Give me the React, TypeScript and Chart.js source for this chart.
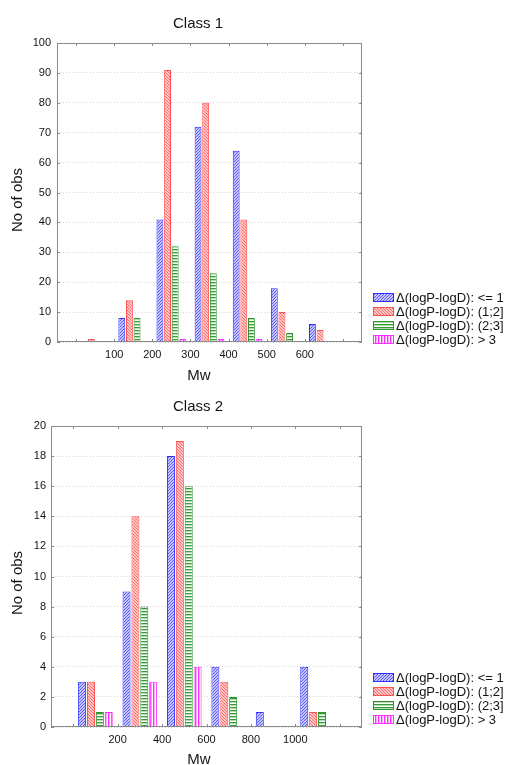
import React, { useEffect, useRef } from 'react';
import { Chart, registerables } from 'chart.js';
Chart.register(...registerables);

const seriesLabels = ['Δ(logP-logD): <= 1', 'Δ(logP-logD): (1;2]', 'Δ(logP-logD): (2;3]', 'Δ(logP-logD): > 3'];

const class1Mw = [50, 150, 250, 350, 450, 550, 650];
const class1Le1 = [0, 8, 41, 72, 64, 18, 6];
const class1R12 = [1, 14, 91, 80, 41, 10, 4];
const class1R23 = [0, 8, 32, 23, 8, 3, 0];
const class1Gt3 = [0, 0, 1, 1, 1, 0, 0];
const class1XTicks = [0, 100, 200, 300, 400, 500, 600, 700];
const class1XLabels = [100, 200, 300, 400, 500, 600];

const class2Mw = [100, 300, 500, 700, 900, 1100];
const class2Le1 = [3, 9, 18, 4, 1, 4];
const class2R12 = [3, 14, 19, 3, 0, 1];
const class2R23 = [1, 8, 16, 2, 0, 1];
const class2Gt3 = [1, 3, 4, 0, 0, 0];
const class2XTicks = [0, 200, 400, 600, 800, 1000, 1200];
const class2XLabels = [200, 400, 600, 800, 1000];

const FONT = '"Liberation Sans", Arial, sans-serif';
const borderColors = ['#3030ff', '#ff5050', '#2f962f', '#ff30ff'];

function makePattern(kind: number): CanvasPattern | string {
  const c = document.createElement('canvas');
  c.width = 3; c.height = 3;
  const g = c.getContext('2d');
  if (!g) return borderColors[kind];
  const px = (x: number, y: number, col: string) => { g.fillStyle = col; g.fillRect(x, y, 1, 1); };
  if (kind === 0) {
    g.fillStyle = '#c6c6ff'; g.fillRect(0, 0, 3, 3);
    for (let i = 0; i < 3; i++) px(i, 2 - i, '#5a5aff');
  } else if (kind === 1) {
    g.fillStyle = '#ffc6c6'; g.fillRect(0, 0, 3, 3);
    for (let i = 0; i < 3; i++) px(i, i, '#ff6a6a');
  } else if (kind === 2) {
    g.fillStyle = '#ffffff'; g.fillRect(0, 0, 3, 3);
    g.fillStyle = '#379a37'; g.fillRect(0, 0, 3, 1);
    g.fillStyle = '#b4dcb4'; g.fillRect(0, 1, 3, 1);
  } else {
    g.fillStyle = '#ffffff'; g.fillRect(0, 0, 3, 3);
    g.fillStyle = '#ff30ff'; g.fillRect(0, 0, 1, 3);
    g.fillStyle = '#ffa8ff'; g.fillRect(1, 0, 1, 3);
  }
  const p = g.createPattern(c, 'repeat');
  return p || borderColors[kind];
}

type Spec = {
  title: string;
  xs: number[];
  series: number[][];
  xMin: number; xMax: number;
  xTicks: number[]; xLabels: number[];
  yMax: number; yStep: number;
  height: number;
  padTop: number; yWidth: number; xHeight: number; yPad: number;
  titleY: number; yTitleY: number; xTitleY: number;
  legendY: number;
};

const decor = {
  id: 'decor',
  afterDraw(chart: any) {
    const spec: Spec = chart.options.plugins.decor.spec;
    const ctx = chart.ctx;
    const { left, right, top, bottom } = chart.chartArea;
    ctx.save();
    ctx.strokeStyle = '#8a8a8a';
    ctx.lineWidth = 1;
    ctx.strokeRect(Math.round(left) + 0.5, Math.round(top) + 0.5, Math.round(right - left) - 1, Math.round(bottom - top) - 1);
    const xs = chart.scales.x; const ys = chart.scales.y;
    ctx.beginPath();
    for (const v of spec.xTicks) {
      const p = Math.round(xs.getPixelForValue(v)) + 0.5;
      ctx.moveTo(p, top); ctx.lineTo(p, top + 3);
      ctx.moveTo(p, bottom); ctx.lineTo(p, bottom - 3);
    }
    for (let v = 0; v <= spec.yMax; v += spec.yStep) {
      const p = Math.round(ys.getPixelForValue(v)) + 0.5;
      ctx.moveTo(left, p); ctx.lineTo(left + 3, p);
      ctx.moveTo(right, p); ctx.lineTo(right - 3, p);
    }
    ctx.stroke();
    ctx.fillStyle = '#141414';
    ctx.font = '15px ' + FONT;
    ctx.textAlign = 'center';
    ctx.textBaseline = 'middle';
    ctx.fillText(spec.title, 198, spec.titleY);
    ctx.fillText('Mw', 199, spec.xTitleY);
    ctx.save();
    ctx.translate(18, spec.yTitleY);
    ctx.rotate(-Math.PI / 2);
    ctx.fillText('No of obs', 0, 0);
    ctx.restore();
    ctx.font = '13px ' + FONT;
    ctx.textAlign = 'left';
    chart.data.datasets.forEach((ds: any, i: number) => {
      const cy = spec.legendY + i * 14;
      ctx.fillStyle = ds.backgroundColor;
      ctx.fillRect(373, cy - 4, 21, 9);
      ctx.strokeStyle = ds.borderColor;
      ctx.strokeRect(373.5, cy - 3.5, 20, 8);
      ctx.fillStyle = '#141414';
      ctx.fillText(ds.label, 396, cy + 1);
    });
    ctx.restore();
  },
};

function buildConfig(spec: Spec): any {
  return {
    type: 'bar',
    data: {
      datasets: spec.series.map((vals, i) => ({
        label: seriesLabels[i],
        data: spec.xs.map((x, j) => ({ x, y: vals[j] })),
        backgroundColor: makePattern(i),
        borderColor: borderColors[i],
        borderWidth: 1,
        categoryPercentage: 0.8,
        barPercentage: 0.9,
      })),
    },
    options: {
      responsive: false,
      animation: false,
      layout: { padding: { top: spec.padTop, right: 145, left: 0, bottom: 0 } },
      plugins: {
        legend: { display: false },
        tooltip: { enabled: false },
        title: { display: false },
        decor: { spec },
      },
      scales: {
        x: {
          type: 'linear',
          min: spec.xMin,
          max: spec.xMax,
          offset: false,
          afterBuildTicks: (scale: any) => { scale.ticks = spec.xTicks.map((v) => ({ value: v })); },
          afterFit: (scale: any) => { scale.height = spec.xHeight; },
          grid: { display: false, drawTicks: false },
          border: { display: false },
          ticks: {
            autoSkip: false,
            maxRotation: 0,
            padding: 6,
            color: '#141414',
            font: { family: FONT, size: 11 },
            callback: (v: any) => (spec.xLabels.includes(Number(v)) ? String(v) : ''),
          },
        },
        y: {
          min: 0,
          max: spec.yMax,
          afterFit: (scale: any) => { scale.width = spec.yWidth; },
          grid: { color: '#d6d6d6', drawTicks: false, lineWidth: 1 },
          border: { display: false, dash: [1, 2] },
          ticks: {
            stepSize: spec.yStep,
            padding: spec.yPad,
            color: '#141414',
            font: { family: FONT, size: 11 },
          },
        },
      },
    },
    plugins: [decor],
  };
}

const spec1: Spec = {
  title: 'Class 1',
  xs: class1Mw,
  series: [class1Le1, class1R12, class1R23, class1Gt3],
  xMin: -50, xMax: 750,
  xTicks: class1XTicks, xLabels: class1XLabels,
  yMax: 100, yStep: 10,
  height: 380,
  padTop: 43, yWidth: 57, xHeight: 38, yPad: 6,
  titleY: 24, yTitleY: 200, xTitleY: 376,
  legendY: 297,
};

const spec2: Spec = {
  title: 'Class 2',
  xs: class2Mw,
  series: [class2Le1, class2R12, class2R23, class2Gt3],
  xMin: -100, xMax: 1300,
  xTicks: class2XTicks, xLabels: class2XLabels,
  yMax: 20, yStep: 2,
  height: 385,
  padTop: 46, yWidth: 51, xHeight: 38, yPad: 5,
  titleY: 27, yTitleY: 203, xTitleY: 380,
  legendY: 297,
};

function BarChart({ spec }: { spec: Spec }) {
  const ref = useRef<HTMLCanvasElement | null>(null);
  useEffect(() => {
    if (!ref.current) return;
    const chart = new Chart(ref.current, buildConfig(spec));
    return () => chart.destroy();
  }, [spec]);
  return <canvas ref={ref} width={507} height={spec.height} style={{ display: 'block', width: 507, height: spec.height }} />;
}

export default function App() {
  return (
    <div style={{ position: 'absolute', left: 0, top: 0, width: 507, height: 765, background: '#fff' }}>
      <BarChart spec={spec1} />
      <BarChart spec={spec2} />
    </div>
  );
}
